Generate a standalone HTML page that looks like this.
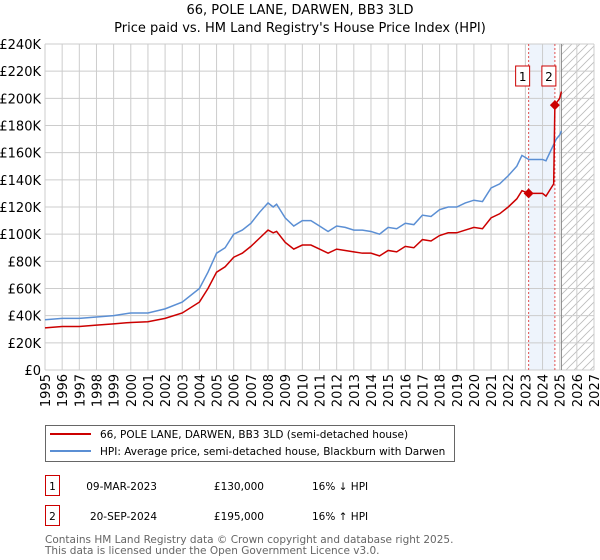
<!DOCTYPE html>
<html><head><meta charset="utf-8"><style>
body{margin:0;background:#fff;}
svg{display:block;font-family:"DejaVu Sans","Liberation Sans",sans-serif;}
</style></head><body>
<svg id="c" width="600" height="560"></svg>
<script>
const hpiYears=[1995,1996,1997,1998,1999,2000,2001,2002,2003,2004,2004.5,2005,2005.5,2006,2006.5,2007,2007.5,2008,2008.3,2008.5,2009,2009.5,2010,2010.5,2011,2011.5,2012,2012.5,2013,2013.5,2014,2014.5,2015,2015.5,2016,2016.5,2017,2017.5,2018,2018.5,2019,2019.5,2020,2020.5,2021,2021.5,2022,2022.5,2022.8,2023.2,2023.5,2024,2024.2,2024.5,2024.8,2025.0,2025.1];
const hpiValues=[37,38,38,39,40,42,42,45,50,60,72,86,90,100,103,108,116,123,120,122,112,106,110,110,106,102,106,105,103,103,102,100,105,104,108,107,114,113,118,120,120,123,125,124,134,137,143,150,158,155,155,155,154,162,170,173,176];
const priceYears=[1995,1996,1997,1998,1999,2000,2001,2002,2003,2004,2004.5,2005,2005.5,2006,2006.5,2007,2007.5,2008,2008.3,2008.5,2009,2009.5,2010,2010.5,2011,2011.5,2012,2012.5,2013,2013.5,2014,2014.5,2015,2015.5,2016,2016.5,2017,2017.5,2018,2018.5,2019,2019.5,2020,2020.5,2021,2021.5,2022,2022.5,2022.8,2023.2,2023.5,2024,2024.2,2024.5,2024.65,2024.72,2025.0,2025.1];
const priceValues=[31,32,32,33,34,35,35.5,38,42,50,60,72,76,83,86,91,97,103,101,102,94,89,92,92,89,86,89,88,87,86,86,84,88,87,91,90,96,95,99,101,101,103,105,104,112,115,120,126,132,130,130,130,128,134,137,195,200,205];
const saleYears=[2023.19,2024.72];
const saleValues=[130,195];
const saleLabels=["1","2"];
const yTicks=[0,20,40,60,80,100,120,140,160,180,200,220,240];
const xTicks=[1995,1996,1997,1998,1999,2000,2001,2002,2003,2004,2005,2006,2007,2008,2009,2010,2011,2012,2013,2014,2015,2016,2017,2018,2019,2020,2021,2022,2023,2024,2025,2026,2027];

const NS="http://www.w3.org/2000/svg";
const svg=document.getElementById('c');
const X0=45,X1=594,Y0=370,Y1=44;
const x=v=>X0+(v-1995)/(2027-1995)*(X1-X0);
const y=v=>Y0-v/240*(Y0-Y1);
function mk(t,a,p){const e=document.createElementNS(NS,t);for(const k in a)e.setAttribute(k,a[k]);(p||svg).appendChild(e);return e;}

const defs=mk('defs',{});
const pat=mk('pattern',{id:'hatch',width:8,height:8,patternUnits:'userSpaceOnUse'},defs);
mk('path',{d:'M0,8 L8,0 M-2,2 L2,-2 M6,10 L10,6',stroke:'#bbb','stroke-width':0.8},pat);

let t=mk('text',{x:300,y:14,'text-anchor':'middle','font-size':13});t.textContent='66, POLE LANE, DARWEN, BB3 3LD';

t=mk('text',{x:300,y:32,'text-anchor':'middle','font-size':13});t.textContent="Price paid vs. HM Land Registry's House Price Index (HPI)";


let r=mk('rect',{x:x(saleYears[0]),y:Y1,width:x(saleYears[1])-x(saleYears[0]),height:Y0-Y1,fill:'#eef4fc'});

const fut=x(2025.1);
r=mk('rect',{x:fut,y:Y1,width:X1-fut,height:Y0-Y1,fill:'url(#hatch)'});


yTicks.forEach(v=>{
  const l=mk('line',{x1:X0,x2:X1,y1:y(v),y2:y(v),stroke:'#ccc','stroke-width':1});
  
  const tx=mk('text',{x:X0-4,y:y(v)+5,'text-anchor':'end','font-size':13});
  tx.textContent=v===0?'£0':'£'+v+'K';
  
});
xTicks.forEach(v=>{
  const l=mk('line',{x1:x(v),x2:x(v),y1:Y1,y2:Y0,stroke:'#ccc','stroke-width':1});
  
  const tx=mk('text',{x:0,y:0,'text-anchor':'end','font-size':13,transform:`translate(${x(v)+5},${Y0+4}) rotate(-90)`});
  tx.textContent=v;
  
});
let l=mk('line',{x1:fut,x2:fut,y1:Y1,y2:Y0,stroke:'#888','stroke-width':1});


saleYears.forEach((s,i)=>{
  const d=mk('line',{x1:x(s),x2:x(s),y1:Y1,y2:Y0,stroke:'#e05050','stroke-width':1,'stroke-dasharray':'2,2'});
  
  const b=mk('rect',{x:x(s)-13,y:66,width:14,height:20,fill:'#fff',stroke:'#cc0000','stroke-width':1});
  
  const tx=mk('text',{x:x(s)-6,y:81,'text-anchor':'middle','font-size':12});tx.textContent=saleLabels[i];
  
});

let p=mk('polyline',{points:hpiYears.map((v,i)=>x(v)+','+y(hpiValues[i])).join(' '),fill:'none',stroke:'#5b8fd4','stroke-width':1.5});

p=mk('polyline',{points:priceYears.map((v,i)=>x(v)+','+y(priceValues[i])).join(' '),fill:'none',stroke:'#cc0000','stroke-width':1.5});

saleYears.forEach((s,i)=>{
  const cx=x(s),cy=y(saleValues[i]);
  const m=mk('path',{d:`M${cx},${cy-5} L${cx+5},${cy} L${cx},${cy+5} L${cx-5},${cy} Z`,fill:'#cc0000'});
  
});

r=mk('rect',{x:45.5,y:425.5,width:409,height:36,fill:'#fff',stroke:'#666'});

l=mk('line',{x1:50,x2:91,y1:434,y2:434,stroke:'#cc0000','stroke-width':2});

l=mk('line',{x1:50,x2:91,y1:451,y2:451,stroke:'#5b8fd4','stroke-width':2});

t=mk('text',{x:100,y:438,'font-size':10.5});t.textContent='66, POLE LANE, DARWEN, BB3 3LD (semi-detached house)';

t=mk('text',{x:100,y:455,'font-size':10.5});t.textContent='HPI: Average price, semi-detached house, Blackburn with Darwen';


const rows=[["1","09-MAR-2023","£130,000","16% ↓ HPI"],["2","20-SEP-2024","£195,000","16% ↑ HPI"]];
rows.forEach((rw,i)=>{
  const yy=475+i*30;
  const b=mk('rect',{x:45.5,y:yy+0.5,width:14,height:20,fill:'#fff',stroke:'#cc0000'});
  
  let tx=mk('text',{x:52.5,y:yy+15,'text-anchor':'middle','font-size':10.5});tx.textContent=rw[0];
  
  tx=mk('text',{x:157,y:yy+15,'text-anchor':'end','font-size':10.5});tx.textContent=rw[1];
  
  tx=mk('text',{x:264,y:yy+15,'text-anchor':'end','font-size':10.5});tx.textContent=rw[2];
  
  tx=mk('text',{x:312,y:yy+15,'font-size':10.5});tx.textContent=rw[3];
  
});
t=mk('text',{x:45,y:543,'font-size':10.5,fill:'#666'});t.textContent='Contains HM Land Registry data © Crown copyright and database right 2025.';

t=mk('text',{x:45,y:554,'font-size':10.5,fill:'#666'});t.textContent='This data is licensed under the Open Government Licence v3.0.';

</script>
</body></html>
